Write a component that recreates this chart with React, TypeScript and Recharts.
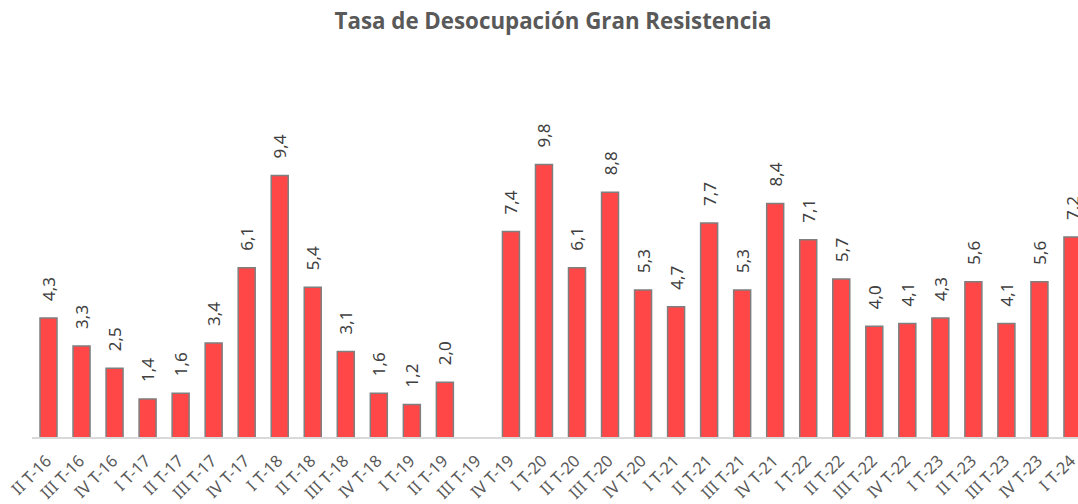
import { BarChart, Bar, XAxis, YAxis, LabelList } from "recharts";

const quarters = [
  "II T-16", "III T-16", "IV T-16", "I T-17", "II T-17", "III T-17", "IV T-17",
  "I T-18", "II T-18", "III T-18", "IV T-18", "I T-19", "II T-19", "III T-19",
  "IV T-19", "I T-20", "II T-20", "III T-20", "IV T-20", "I T-21", "II T-21",
  "III T-21", "IV T-21", "I T-22", "II T-22", "III T-22", "IV T-22", "I T-23",
  "II T-23", "III T-23", "IV T-23", "I T-24",
];

const rates: (number | null)[] = [
  4.3, 3.3, 2.5, 1.4, 1.6, 3.4, 6.1, 9.4, 5.4, 3.1, 1.6, 1.2, 2.0, null,
  7.4, 9.8, 6.1, 8.8, 5.3, 4.7, 7.7, 5.3, 8.4, 7.1, 5.7, 4.0, 4.1, 4.3,
  5.6, 4.1, 5.6, 7.2,
];

const data = quarters.map((q, i) => ({ q, rate: rates[i] }));

const labelFont = "'Noto Sans', 'DejaVu Sans', sans-serif";

function QuarterTick({ x, y, payload }: any) {
  const tx = x + 4;
  const ty = y + 16;
  return (
    <text
      x={tx}
      y={ty}
      transform={`rotate(-45, ${tx}, ${ty})`}
      textAnchor="end"
      fill="#595959"
      fontSize={16.5}
      fontFamily={labelFont}
    >
      {payload.value}
    </text>
  );
}

function RateLabel({ x, y, width, value }: any) {
  if (value == null) return null;
  const cx = x + width / 2;
  const cy = y - 17;
  return (
    <text
      x={cx}
      y={cy}
      transform={`rotate(-90, ${cx}, ${cy})`}
      textAnchor="start"
      dominantBaseline="central"
      fill="#404040"
      fontSize={17}
      fontFamily={labelFont}
    >
      {value.toFixed(1).replace(".", ",")}
    </text>
  );
}

export default function App() {
  return (
    <div
      style={{
        position: "fixed",
        left: 0,
        top: 0,
        width: 1078,
        height: 504,
        overflow: "hidden",
        background: "#fff",
      }}
    >
      <div
        style={{
          position: "absolute",
          left: 0,
          top: 7,
          width: 1106,
          textAlign: "center",
          fontFamily: "'Open Sans', sans-serif",
          fontWeight: 700,
          fontSize: 22.3,
          lineHeight: "28px",
          color: "#595959",
        }}
      >
        Tasa de Desocupación Gran Resistencia
      </div>
      <BarChart
        width={1089}
        height={504}
        data={data}
        margin={{ top: 103, right: 0, bottom: 6, left: 32 }}
      >
        <YAxis hide domain={[0, 12]} />
        <XAxis
          dataKey="q"
          height={60}
          interval={0}
          tickLine={false}
          axisLine={{ stroke: "#d9d9d9", strokeWidth: 2 }}
          tick={<QuarterTick />}
        />
        <Bar
          dataKey="rate"
          barSize={17}
          fill="#ff4747"
          stroke="#7f7f7f"
          strokeWidth={1.5}
          isAnimationActive={false}
        >
          <LabelList dataKey="rate" content={<RateLabel />} />
        </Bar>
      </BarChart>
    </div>
  );
}
